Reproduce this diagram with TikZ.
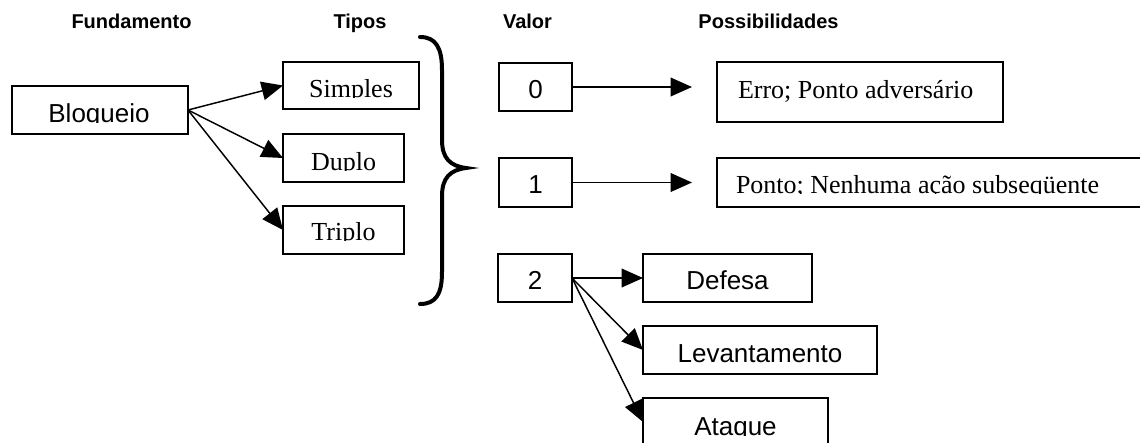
\documentclass[tikz,border=0pt]{standalone}
\usepackage{fontspec}
\setmainfont{Liberation Serif}
\newfontfamily\arial{Liberation Sans}
\usetikzlibrary{arrows.meta}

\newcommand\bigsize{\fontsize{19.5}{21}\selectfont}
\newcommand\headsize{\fontsize{15}{17}\selectfont}

\tikzset{
  box/.style={draw, rectangle, line width=1.1pt, inner sep=0pt, outer sep=0pt},
  lbl/.style={inner sep=0pt, outer sep=0pt, anchor=base},
  sans/.style={lbl, font=\arial\bigsize},
  serif/.style={lbl, font=\rmfamily\bigsize},
  head/.style={lbl, font=\arial\headsize\bfseries},
  arr/.style={line width=1.1pt, -{Triangle[length=16pt, width=14pt]}},
  brace/.style={line width=3pt, line cap=round}
}

\begin{document}
\begin{tikzpicture}[x=0.75pt, y=-0.75pt]
\useasboundingbox (0,0) rectangle (1140,443);

% column headings
\node[head] (hfund) at (131.5,28) {Fundamento};
\node[head] (htipos) at (360,28) {Tipos};
\node[head] (hvalor) at (527.5,28) {Valor};
\node[head] (hposs) at (768.5,28) {Possibilidades};

% boxes
\node[box, minimum width=132pt, minimum height=36pt] (bloq) at (100,110) {};
\node[box, minimum width=102pt, minimum height=35.25pt] (simples) at (351,85.5) {};
\node[box, minimum width=90.75pt, minimum height=36pt] (duplo) at (343.5,158) {};
\node[box, minimum width=90.75pt, minimum height=36pt] (triplo) at (343.5,230) {};

\node[box, minimum width=54.75pt, minimum height=36pt] (v0) at (535.5,87) {};
\node[box, minimum width=54.75pt, minimum height=36.75pt] (v1) at (535.5,182.5) {};
\node[box, minimum width=55.5pt, minimum height=36pt] (v2) at (535,278) {};

\node[box, minimum width=214.5pt, minimum height=45pt] (erro) at (860,92) {};
\node[box, minimum width=324.75pt, minimum height=36.75pt] (ponto) at (933.5,182.5) {};
\node[box, minimum width=126.75pt, minimum height=36pt] (defesa) at (727.5,278) {};
\node[box, minimum width=175.5pt, minimum height=36pt] (levant) at (760,350) {};
\node[box, minimum width=138.75pt, minimum height=36pt] (ataque) at (735.5,422) {};

% labels cut off at their baseline by the text frames
\begin{scope}
  \clip (12,86) rectangle (188,122.5);
  \node[sans] (tbloq) at (99,122) {Bloqueio};
\end{scope}
\begin{scope}
  \clip (283,62) rectangle (419,97.5);
  \node[serif] (tsimples) at (351,97) {Simples};
\end{scope}
\begin{scope}
  \clip (283,134) rectangle (404,170.5);
  \node[serif] (tduplo) at (343.5,170) {Duplo};
\end{scope}
\begin{scope}
  \clip (283,206) rectangle (404,240.5);
  \node[serif] (ttriplo) at (343.5,240) {Triplo};
\end{scope}
\begin{scope}
  \clip (717,158) rectangle (1140,193.5);
  \node[serif, anchor=base west] (tponto) at (736,193) {Ponto; Nenhuma ação subseqüente};
\end{scope}
\begin{scope}
  \clip (643,398) rectangle (828,435.5);
  \node[sans] (tataque) at (735.5,435) {Ataque};
\end{scope}

% labels shown in full
\node[sans] (t0) at (535.5,98) {0};
\node[sans] (t1) at (535.5,193) {1};
\node[sans] (t2) at (535,289) {2};
\node[serif, anchor=base west] (terro) at (738,98) {Erro; Ponto adversário};
\node[sans] (tdefesa) at (727.5,289) {Defesa};
\node[sans] (tlevant) at (760,362) {Levantamento};

% connectors
\draw[arr] (bloq.east) -- (simples.west);
\draw[arr] (bloq.east) -- (duplo.west);
\draw[arr] (bloq.east) -- (triplo.west);

\coordinate (e0) at (692,87);
\coordinate (e1) at (692,182.5);
\draw[arr] (v0.east) -- (e0);
\draw[arr] (v1.east) -- (e1);

\draw[arr] (v2.east) -- (defesa.west);
\draw[arr] (v2.east) -- (levant.west);
\draw[arr] (v2.east) -- (ataque.west);

% curly brace grouping the types
\draw[brace] (420,37) .. controls (436,37) and (442,48) .. (442,70)
  -- (442,140) .. controls (442,158) and (450,166) .. (466,168)
  .. controls (450,170) and (442,178) .. (442,196)
  -- (442,272) .. controls (442,294) and (436,304) .. (420,304);
\end{tikzpicture}
\end{document}
